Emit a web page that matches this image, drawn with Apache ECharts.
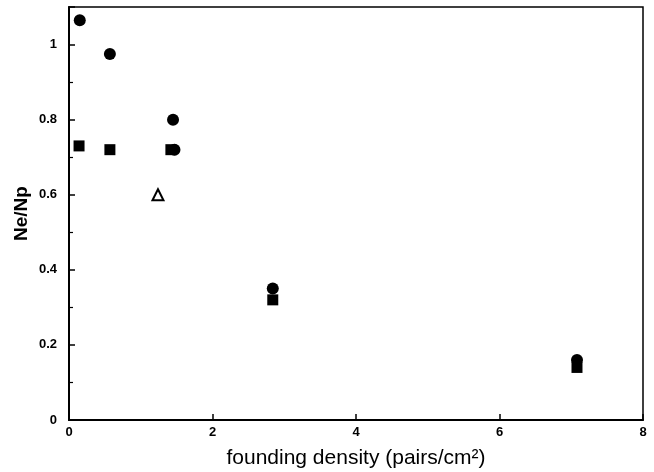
<!DOCTYPE html>
<html>
<head>
<meta charset="utf-8">
<script src="https://cdn.jsdelivr.net/npm/echarts@6/dist/echarts.min.js"></script>
<style>
  html, body { margin: 0; padding: 0; background: #fff; }
  #chart { width: 654px; height: 472px; }
</style>
</head>
<body>
<div id="chart"></div>
<script>
// values
const circleX = [0.15, 0.57, 1.45, 1.47, 2.84, 7.08];
const circleY = [1.065, 0.975, 0.80, 0.72, 0.35, 0.16];
const squareX = [0.14, 0.57, 1.42, 2.84, 7.08];
const squareY = [0.73, 0.72, 0.72, 0.32, 0.14];
const triangleX = [1.24];
const triangleY = [0.60];
const yLabelMax = 1; // no label above 1 in the original

const pairs = (xs, ys) => xs.map((x, i) => [x, ys[i]]);

const chart = echarts.init(document.getElementById('chart'));
const labelFont = { fontFamily: 'Liberation Sans', fontWeight: 'bold', fontSize: 13, color: '#000' };

chart.setOption({
    animation: false,
    grid: {
        left: 69, right: 11, top: 7, bottom: 52,
        outerBoundsMode: 'none',
        show: true, borderColor: '#000', borderWidth: 1.5
    },
    xAxis: {
        type: 'value', min: 0, max: 8, interval: 2,
        name: 'founding density (pairs/cm²)', nameLocation: 'middle', nameGap: 28,
        nameMoveOverlap: false,
        nameTextStyle: { fontFamily: 'Liberation Sans', fontSize: 21, color: '#000' },
        axisLine: { lineStyle: { color: '#000', width: 2 } },
        axisTick: { show: true, inside: true, length: 6, lineStyle: { color: '#000', width: 1.5 } },
        axisLabel: Object.assign({ margin: 6 }, labelFont),
        splitLine: { show: false }
    },
    yAxis: {
        type: 'value', min: 0, max: 1.1, interval: 0.2,
        name: 'Ne/Np', nameLocation: 'middle', nameGap: 38,
        nameMoveOverlap: false,
        nameTextStyle: { fontFamily: 'Liberation Sans', fontWeight: 'bold', fontSize: 19, color: '#000' },
        axisLine: { lineStyle: { color: '#000', width: 2 } },
        axisTick: { show: true, inside: true, length: 6, lineStyle: { color: '#000', width: 1.5 } },
        minorTick: { show: true, splitNumber: 2, length: 4, lineStyle: { color: '#000', width: 1.2 } },
        axisLabel: Object.assign({
            margin: 12,
            formatter: v => (v > yLabelMax + 1e-9 ? '' : String(v))
        }, labelFont),
        splitLine: { show: false }
    },
    series: [
        {
            type: 'scatter', data: pairs(squareX, squareY), symbol: 'rect', symbolSize: 11,
            itemStyle: { color: '#000', opacity: 1 }
        },
        {
            type: 'scatter', data: pairs(circleX, circleY), symbol: 'circle', symbolSize: 12,
            itemStyle: { color: '#000', opacity: 1 }
        },
        {
            type: 'scatter', data: pairs(triangleX, triangleY), symbol: 'triangle', symbolSize: 11,
            itemStyle: { color: '#fff', borderColor: '#000', borderWidth: 2, opacity: 1 }
        }
    ]
});
</script>
</body>
</html>
